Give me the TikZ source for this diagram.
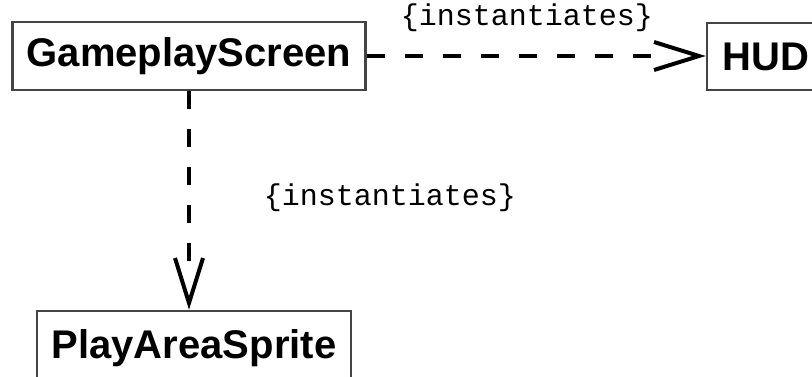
\documentclass[tikz,border=0pt]{standalone}
\usepackage{fontspec}
\setmainfont{Liberation Sans}
\newfontfamily\labelfont{Liberation Mono}
\usetikzlibrary{arrows.meta}
\definecolor{boxline}{HTML}{444444}
\tikzset{
  cls/.style={draw=boxline, line width=2.5pt, fill=white, inner sep=0pt,
    font=\fontsize{40}{40}\selectfont\bfseries, text=black},
  dep/.style={line width=4pt, dash pattern=on 18pt off 20pt, shorten >=45pt,
    postaction={draw, shorten >=0pt, dash pattern=on 0pt off 3000pt,
      -{Straight Barb[length=45pt, width=28pt, line width=4pt]}}},
  lbl/.style={font=\labelfont\fontsize{30}{30}\selectfont, text=black, inner sep=0pt}
}
\begin{document}
\begin{tikzpicture}[x=1pt, y=-1pt]
\useasboundingbox (0,0) rectangle (812,377);
\clip (0,0) rectangle (812,377);
\fill[white] (0,0) rectangle (812,377);
\node[cls, minimum width=353pt, minimum height=68pt] (gs) at (189,56) {GameplayScreen};
\node[cls, minimum width=118pt, minimum height=67pt] (hud) at (766,56.5) {HUD};
\node[cls, minimum width=314pt, minimum height=74pt] (pa) at (194,348) {PlayAreaSprite};
\draw[dep] (gs.east) -- (gs.east -| hud.west);
\draw[dep] (gs.south) -- (gs.south |- pa.north);
\node[lbl] (l1) at (527,18) {\{instantiates\}};
\node[lbl] (l2) at (390,198) {\{instantiates\}};
\end{tikzpicture}
\end{document}
